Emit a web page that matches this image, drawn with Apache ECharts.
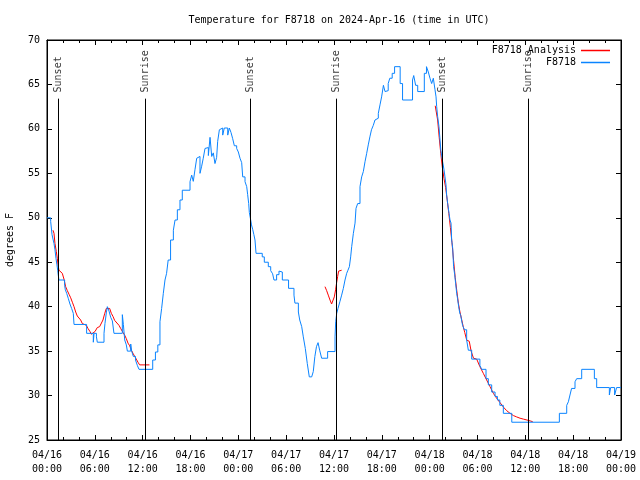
<!DOCTYPE html>
<html><head><meta charset="utf-8">
<script src="https://cdn.jsdelivr.net/npm/echarts@6/dist/echarts.min.js"></script>
<style>html,body{margin:0;padding:0;background:#fff}#c{width:640px;height:480px}</style>
</head><body><div id="c"></div>
<script>
// hours since 2024-04-16 00:00 UTC
const titleText = 'Temperature for F8718 on 2024-Apr-16 (time in UTC)';
const seriesNames = ['F8718 Analysis', 'F8718'];
const yTicks = [25, 30, 35, 40, 45, 50, 55, 60, 65, 70];
const xTickHours = [0, 6, 12, 18, 24, 30, 36, 42, 48, 54, 60, 66, 72];

const observed = [
[0,50.0],[0.46,49.6],[0.63,48.1],[0.88,47.1],[1.0,46.4],[1.13,45.4],[1.25,44.7],[1.34,44.1],[1.42,43.5],[1.5,43.0],
[2.21,42.4],[2.3,41.9],[2.47,41.5],[2.68,40.9],[2.88,40.3],[3.09,39.8],[3.3,39.25],[3.39,38.0],[4.97,37.0],[5.81,36.0],
[5.9,37.0],[6.2,36.6],[6.31,36.0],[7.15,37.0],[7.27,38.1],[7.44,39.3],[7.57,40.0],[7.78,39.5],[7.99,38.8],[8.2,38.4],
[8.4,37.0],[9.45,39.1],[9.58,38.0],[9.75,36.25],[9.95,35.7],[10.08,35.0],[10.5,35.8],[10.62,35.0],[10.83,34.4],[11.1,34.0],
[11.33,33.4],[11.54,32.95],[13.26,34.0],[13.6,34.9],[13.9,35.7],[14.17,38.3],[14.38,39.8],[14.59,41.5],[14.8,43.0],[15.0,43.75],
[15.2,45.25],[15.5,47.5],[15.85,48.6],[16.06,49.75],[16.35,50.9],[16.68,52.0],[16.97,53.1],[17.94,54.06],[18.15,54.8],[18.35,54.1],
[18.56,55.4],[18.78,56.7],[18.98,56.9],[19.19,55.0],[19.4,55.8],[19.6,56.7],[19.82,57.8],[20.03,57.9],[20.24,57.0],[20.45,59.05],
[20.66,56.9],[20.86,57.3],[21.07,56.1],[21.28,56.8],[21.41,58.6],[21.62,59.9],[21.83,60.1],[22.04,59.3],[22.24,60.1],[22.45,60.1],
[22.67,59.3],[22.87,60.1],[23.08,59.6],[23.29,58.9],[23.5,58.1],[23.79,57.8],[24.0,57.4],[24.21,56.7],[24.42,56.2],[24.55,54.6],
[24.84,54.06],[25.05,53.5],[25.17,52.6],[25.3,51.6],[25.38,50.6],[25.55,49.75],[25.65,49.2],[25.8,48.7],[25.95,48.1],[26.09,47.5],
[26.22,46.0],[27.0,45.6],[27.26,45.0],[27.76,44.5],[28.06,44.05],[28.3,43.7],[28.47,43.0],[28.8,43.6],[29.1,44.0],[29.3,43.9],
[29.52,43.0],[30.3,42.06],[30.98,41.3],[31.1,40.4],[31.53,39.4],[31.7,38.5],[31.95,37.75],[32.15,36.6],[32.4,35.3],[32.65,33.6],
[32.9,32.1],[33.2,31.9],[33.4,32.7],[33.6,34.4],[33.8,35.5],[34.0,35.95],[34.2,35.1],[34.45,34.2],[35.2,34.95],[36.13,36.6],
[36.21,38.3],[36.34,39.25],[36.5,39.8],[36.75,40.6],[36.96,41.3],[37.17,42.05],[37.38,43.0],[37.59,43.75],[37.75,44.1],[37.93,44.5],
[38.09,45.6],[38.22,46.75],[38.43,48.25],[38.64,49.4],[38.76,51.06],[38.97,51.6],[39.26,53.5],[39.47,54.6],[39.68,55.2],[39.89,56.3],
[40.1,57.25],[40.3,58.2],[40.5,59.1],[40.7,59.9],[40.93,60.4],[41.14,61.0],[41.35,61.2],[41.56,61.75],[41.77,62.7],[41.97,63.6],
[42.2,64.9],[42.4,64.2],[42.6,64.3],[42.8,65.1],[43.0,65.7],[43.3,66.25],[43.6,67.0],[44.3,65.1],[44.6,63.25],[45.85,65.5],
[46.0,66.0],[46.24,64.9],[46.5,64.2],[47.33,66.25],[47.6,67.0],[47.83,66.4],[48.04,65.7],[48.25,65.1],[48.46,65.7],[48.67,64.4],
[48.8,63.6],[48.88,62.5],[49.0,61.4],[49.17,60.25],[49.3,58.75],[49.4,57.6],[49.59,56.5],[49.8,55.4],[49.92,54.6],[50.05,53.7],
[50.13,52.56],[50.26,51.6],[50.43,50.5],[50.55,49.75],[50.68,49.4],[50.76,47.5],[50.89,46.56],[51.0,44.5],[51.14,43.6],[51.26,42.6],
[51.39,41.5],[51.5,40.9],[51.64,40.0],[51.77,39.3],[51.9,39.0],[52.0,38.5],[52.13,37.9],[52.35,37.4],[52.64,36.25],[52.85,35.1],
[53.27,34.1],[54.3,33.4],[54.52,32.95],[55.07,31.9],[55.36,31.2],[55.78,30.4],[56.2,29.9],[56.5,29.5],[56.8,28.9],[57.24,28.0],
[58.3,27.0],[64.27,28.0],[65.19,28.9],[65.4,29.3],[65.6,30.06],[65.8,30.8],[66.23,31.55],[66.44,31.9],[67.07,32.95],[68.66,31.9],
[68.95,30.9],[70.54,30.06],[70.7,30.9],[71.2,30.06],[71.45,30.9],[72,30.9]
];

const analysis = [
[0.75,48.6],[0.88,48.25],[1.0,47.1],[1.17,46.2],[1.3,45.4],[1.38,44.7],[1.5,44.1],[1.72,44.0],[1.92,43.75],[2.13,43.1],
[2.34,42.25],[2.55,41.8],[2.76,41.4],[2.97,41.0],[3.18,40.5],[3.39,40.0],[3.6,39.4],[3.8,38.95],[4.01,38.9],[4.22,38.5],
[4.43,38.1],[4.64,38.0],[4.93,37.9],[5.14,37.55],[5.39,37.2],[5.56,36.9],[5.8,36.8],[6.02,37.2],[6.31,37.65],[6.6,37.75],
[6.8,37.8],[7.02,38.5],[7.23,39.2],[7.44,39.8],[7.65,40.0],[7.86,39.8],[8.07,39.25],[8.28,38.9],[8.49,38.45],[8.74,38.35],
[9.03,37.9],[9.24,37.55],[9.53,37.1],[9.74,36.8],[9.95,36.4],[10.16,35.9],[10.37,35.6],[10.58,35.1],[10.79,34.75],[11.0,34.4],
[11.2,34.1],[11.41,33.75],[11.62,33.45],[12.85,33.45],
[null,null],
[34.87,42.25],[35.08,41.8],[35.28,41.3],[35.5,40.75],[35.7,40.3],[35.9,40.2],[36.04,41.1],[36.2,41.9],[36.33,42.7],[36.46,43.4],
[36.58,44.0],[36.75,44.1],[36.96,44.1],
[null,null],
[48.7,62.6],[49.0,61.0],[49.2,59.0],[49.4,57.2],[49.6,55.6],[49.8,54.4],[50.0,53.4],[50.2,52.0],[50.4,50.5],[50.6,48.9],
[50.8,47.2],[51.0,45.2],[51.2,43.3],[51.4,41.8],[51.6,40.4],[51.8,39.4],[52.0,38.6],[52.2,37.8],[52.4,37.1],[52.64,36.25],
[52.97,36.1],[53.2,35.0],[53.5,34.2],[53.9,34.1],[54.3,33.25],[54.73,32.5],[55.15,31.75],[55.57,31.0],[55.99,30.25],[56.4,29.7],
[56.83,29.2],[57.25,28.7],[57.66,28.3],[58.08,28.0],[58.5,27.75],[58.9,27.6],[59.34,27.45],[59.76,27.35],[60.2,27.25],[60.6,27.15],
[60.93,27.06]
];

const sunHours = [1.42, 12.33, 25.5, 36.29, 49.59, 60.37];
const sunNames = ['Sunset', 'Sunrise', 'Sunset', 'Sunrise', 'Sunset', 'Sunrise'];
const sunLineTop = 63.4;
const sunLabelBase = 64.1;

const FONT = 'DejaVu Sans Mono';
const RED = '#ff0000';
const BLUE = '#0a84ff';
const pad = n => (n < 10 ? '0' : '') + n;
function xLabel(v) {
  const d = 16 + Math.floor(v / 24);
  const h = Math.round(v % 24);
  return '04/' + pad(d) + '\n' + pad(h) + ':00';
}

const chart = echarts.init(document.getElementById('c'), null, {renderer: 'canvas'});
const axisCommon = {
  axisLine: {show: true, onZero: false, lineStyle: {color: '#000', width: 1}},
  splitLine: {show: false}
};
function legendFor(name, color, top) {
  return {
    data: [{name: name, icon: 'rect', itemStyle: {color: color}}],
    right: 30, top: top, padding: 0, itemWidth: 29, itemHeight: 1.5, align: 'right', itemGap: 6,
    textStyle: {fontFamily: FONT, fontSize: 10, color: '#000'}
  };
}
chart.setOption({
  animation: false,
  backgroundColor: '#fff',
  textStyle: {fontFamily: FONT},
  title: {
    text: titleText, left: 334, top: 10, textAlign: 'center',
    textStyle: {fontFamily: FONT, fontSize: 10, fontWeight: 'normal', color: '#000'}
  },
  grid: {left: 47, right: 19, top: 40, bottom: 40, containLabel: false, outerBoundsMode: 'none',
         show: true, borderColor: '#000', borderWidth: 1},
  legend: [legendFor(seriesNames[0], RED, 45.5), legendFor(seriesNames[1], BLUE, 57.5)],
  xAxis: [
    Object.assign({}, axisCommon, {
      type: 'value', min: 0, max: 72, interval: 6, position: 'bottom',
      axisTick: {show: true, inside: true, length: 5, lineStyle: {color: '#000'}},
      minorTick: {show: true, splitNumber: 3, length: 3, lineStyle: {color: '#000'}},
      axisLabel: {show: true, margin: 8, lineHeight: 14, fontFamily: FONT, fontSize: 10, color: '#000',
                  formatter: v => xTickHours.indexOf(v) >= 0 ? xLabel(v) : ''}
    }),
    Object.assign({}, axisCommon, {
      type: 'value', min: 0, max: 72, interval: 6, position: 'top',
      axisTick: {show: true, inside: true, length: 5, lineStyle: {color: '#000'}},
      minorTick: {show: true, splitNumber: 3, length: 3, lineStyle: {color: '#000'}},
      axisLabel: {show: false}
    })
  ],
  yAxis: [
    Object.assign({}, axisCommon, {
      type: 'value', min: 25, max: 70, interval: 5, position: 'left',
      name: 'degrees F', nameLocation: 'middle', nameGap: 32, nameRotate: 90,
      nameTextStyle: {fontFamily: FONT, fontSize: 10, color: '#000'},
      axisTick: {show: true, inside: true, length: 5, lineStyle: {color: '#000'}},
      axisLabel: {show: true, margin: 7, fontFamily: FONT, fontSize: 10, color: '#000',
                  formatter: v => yTicks.indexOf(v) >= 0 ? String(v) : ''}
    }),
    Object.assign({}, axisCommon, {
      type: 'value', min: 25, max: 70, interval: 5, position: 'right',
      axisTick: {show: true, inside: true, length: 5, lineStyle: {color: '#000'}},
      axisLabel: {show: false}
    })
  ],
  series: [
    {
      name: 'sunlines', type: 'line', data: [], silent: true,
      markLine: {
        silent: true, symbol: 'none', animation: false,
        lineStyle: {color: '#000', width: 1, type: 'solid'},
        label: {show: false},
        data: sunHours.map(h => [{coord: [h, 25]}, {coord: [h, sunLineTop]}])
      }
    },
    {
      name: 'sunlabels', type: 'scatter', symbolSize: 0, silent: true,
      data: sunHours.map((h, i) => ({value: [h, sunLabelBase], name: sunNames[i]})),
      label: {show: true, position: [0, 0], rotate: 90, align: 'left', verticalAlign: 'middle',
              formatter: p => p.name, fontFamily: FONT, fontSize: 10, color: '#000'}
    },
    {
      name: seriesNames[0], type: 'line', data: analysis, symbol: 'none', showSymbol: false,
      connectNulls: false, lineStyle: {color: RED, width: 1}, itemStyle: {color: RED}, z: 3
    },
    {
      name: seriesNames[1], type: 'line', data: observed, step: 'end', symbol: 'none', showSymbol: false,
      lineStyle: {color: BLUE, width: 1}, itemStyle: {color: BLUE}, z: 4
    }
  ]
});
</script>
</body></html>
